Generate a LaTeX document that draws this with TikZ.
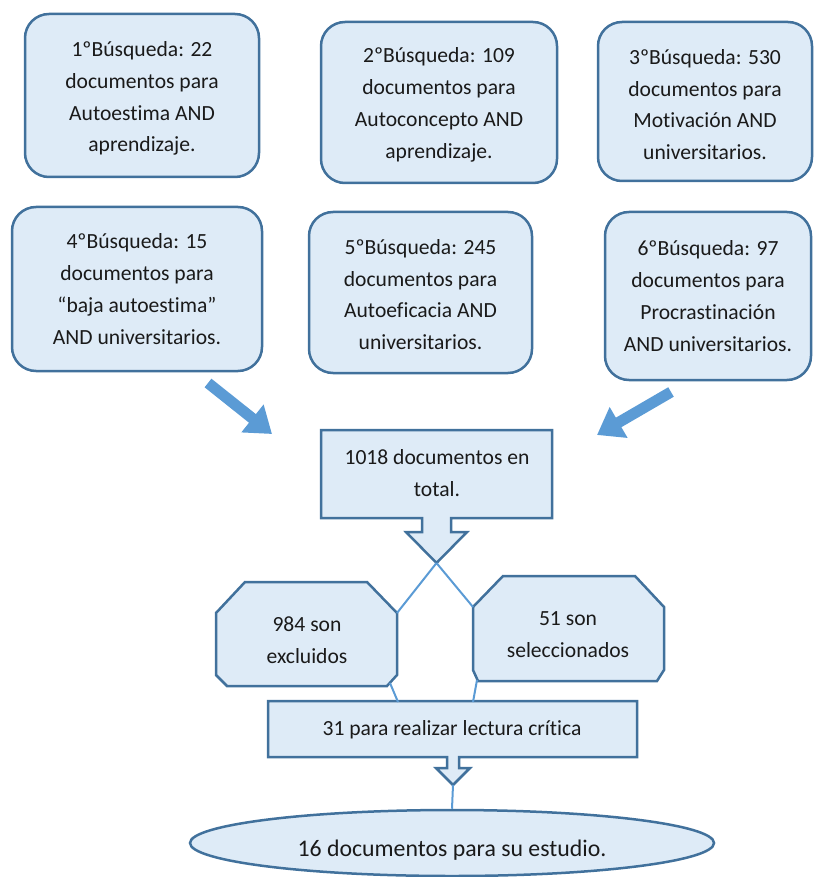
\documentclass[tikz,border=0pt]{standalone}
\usepackage{fontspec}
\setmainfont{Carlito}[Ligatures=NoCommon]
\usetikzlibrary{arrows.meta,shapes.geometric}
\definecolor{boxfill}{HTML}{DEEBF7}
\definecolor{boxline}{HTML}{41719C}
\definecolor{lightline}{HTML}{5B9BD5}
\definecolor{txtcol}{HTML}{1A1A1A}
\newcommand\diagfont{\fontsize{21.6}{31.8}\selectfont}
\newcommand\bigdiagfont{\fontsize{23.8}{32}\selectfont}
\begin{document}
\begin{tikzpicture}[x=1pt,y=-1pt,
  searchbox/.style={draw=boxline, fill=boxfill, line width=2.5pt, rounded corners=24pt,
    align=center, font=\diagfont, text=txtcol, inner sep=0pt},
  shapeline/.style={draw=boxline, fill=boxfill, line width=2.5pt, line join=miter},
  plaintext/.style={align=center, font=\diagfont, text=txtcol, inner sep=0pt},
  thinlink/.style={draw=lightline, line width=2pt},
  bigarrow/.style={draw=lightline, line width=11pt, -{Triangle[length=25pt,width=34pt]}}
]
\useasboundingbox (0,0) rectangle (823,877);

% search boxes
\node[searchbox, minimum width=234pt, minimum height=163pt] (b1) at (142,95.5)
  {\rule{0pt}{21pt}1ºBúsqueda: 22\\documentos para\\Autoestima AND\\aprendizaje.};
\node[searchbox, minimum width=236pt, minimum height=161pt] (b2) at (439,102.5)
  {\rule{0pt}{20pt}2ºBúsqueda: 109\\documentos para\\Autoconcepto AND\\aprendizaje.};
\node[searchbox, minimum width=214pt, minimum height=159pt] (b3) at (705,101.5)
  {\rule{0pt}{21pt}3ºBúsqueda: 530\\documentos para\\Motivación AND\\universitarios.};
\node[searchbox, minimum width=250pt, minimum height=164pt] (b4) at (137,289)
  {4ºBúsqueda: 15\\documentos para\\“baja autoestima”\\AND universitarios.};
\node[searchbox, minimum width=223pt, minimum height=161pt] (b5) at (420.5,292.5)
  {\rule{0pt}{19pt}5ºBúsqueda: 245\\documentos para\\Autoeficacia AND\\universitarios.};
\node[searchbox, minimum width=206pt, minimum height=168pt] (b6) at (708,296)
  {6ºBúsqueda: 97\\documentos para\\Procrastinación\\AND universitarios.};

% big arrows
\coordinate (la1) at (208,383);
\coordinate (la2) at (272,434);
\coordinate (ra1) at (671,392);
\coordinate (ra2) at (597,435);
\draw[bigarrow] (la1) -- (la2);
\draw[bigarrow] (ra1) -- (ra2);

% total callout
\path[shapeline] (321,430) -- (552,430) -- (552,518) -- (451,518) -- (451,532)
  -- (467,532) -- (436.5,563) -- (406,532) -- (422,532) -- (422,518)
  -- (321,518) -- cycle;
\coordinate (tip1) at (436.5,563);
\node[plaintext] (total) at (437,473) {1018 documentos en\\total.};

% octagons
\path[shapeline] (245,582) -- (367,582) -- (397,613) -- (397,675) -- (387,686)
  -- (227,686) -- (216,675) -- (216,613) -- cycle;
\coordinate (exTR) at (397,613);
\coordinate (exBR) at (390,683);
\node[plaintext] (excl) at (307,640) {984 son\\excluidos};

\path[shapeline] (503,576) -- (635,576) -- (664,607) -- (664,670) -- (657,681)
  -- (478,681) -- (473,670) -- (473,607) -- cycle;
\coordinate (seTL) at (473,607);
\coordinate (seBL) at (477,680);
\node[plaintext] (sel) at (568,634.5) {51 son\\seleccionados};

% links
\draw[thinlink] (tip1) -- (exTR);
\draw[thinlink] (tip1) -- (seTL);

% critical reading callout
\path[shapeline] (268,701) -- (637,701) -- (637,757) -- (459,757) -- (459,768)
  -- (470,768) -- (453,785) -- (436,768) -- (447,768) -- (447,757)
  -- (268,757) -- cycle;
\coordinate (tip2) at (453,785);
\coordinate (critL) at (398,702);
\coordinate (critR) at (473,702);
\node[plaintext] (crit) at (452,729.5) {31 para realizar lectura crítica};
\draw[thinlink] (exBR) -- (critL);
\draw[thinlink] (seBL) -- (critR);

% final ellipse
\node[draw=boxline, fill=boxfill, line width=2.5pt, ellipse, inner sep=0pt,
  minimum width=524pt, minimum height=66pt] (final) at (452,843) {};
\node[plaintext, font=\bigdiagfont] (finaltext) at (452,850.5) {16 documentos para su estudio.};
\draw[thinlink] (tip2) -- (final.north);
\end{tikzpicture}
\end{document}
